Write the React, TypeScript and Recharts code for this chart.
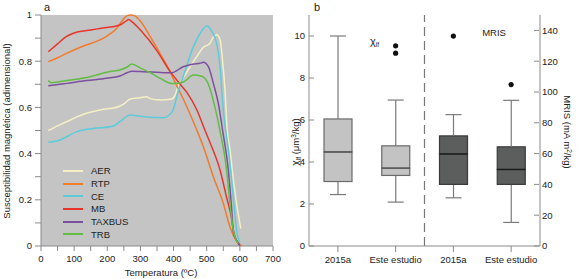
import React from 'react';
import {
  LineChart, Line, XAxis, YAxis, CartesianGrid, Legend,
  ComposedChart, Bar, ReferenceLine,
} from 'recharts';

const FONT = '"Liberation Sans", Arial, sans-serif';
const AX = '#8a8a8a';
const TXT = '#222';

// panel a: thermomagnetic curves, [temperature ºC, normalised susceptibility]
const aer = [[22, 0.5], [50, 0.52], [77, 0.538], [128, 0.57], [178, 0.589], [233, 0.603], [250, 0.615], [269, 0.636], [300, 0.642], [319, 0.646], [329, 0.638], [359, 0.632], [394, 0.636], [405, 0.655], [412, 0.685], [430, 0.73], [450, 0.776], [470, 0.82], [490, 0.86], [510, 0.878], [520, 0.905], [530, 0.915], [540, 0.895], [548, 0.8], [555, 0.68], [562, 0.5], [570, 0.42], [577, 0.33], [590, 0.185], [603, 0.075]];
const rtp = [[22, 0.798], [50, 0.815], [77, 0.834], [128, 0.866], [178, 0.892], [200, 0.91], [228, 0.942], [245, 0.975], [259, 0.996], [270, 1.0], [283, 0.996], [299, 0.975], [330, 0.905], [359, 0.834], [389, 0.755], [399, 0.725], [440, 0.603], [470, 0.502], [490, 0.43], [520, 0.3], [550, 0.185], [570, 0.083], [585, 0.033], [605, 0.0]];
const ce = [[22, 0.449], [40, 0.452], [57, 0.459], [80, 0.475], [108, 0.495], [158, 0.509], [213, 0.517], [238, 0.538], [260, 0.562], [269, 0.567], [299, 0.562], [349, 0.556], [370, 0.555], [384, 0.564], [399, 0.59], [410, 0.65], [429, 0.733], [460, 0.863], [480, 0.92], [500, 0.952], [515, 0.93], [530, 0.877], [540, 0.78], [548, 0.62], [557, 0.5], [565, 0.42], [572, 0.33], [582, 0.185], [590, 0.07], [600, 0.015]];
const mb = [[22, 0.841], [50, 0.875], [75, 0.905], [98, 0.921], [150, 0.935], [178, 0.942], [238, 0.957], [255, 0.972], [265, 0.98], [275, 0.97], [300, 0.935], [350, 0.845], [389, 0.757], [420, 0.7], [440, 0.665], [470, 0.59], [495, 0.5], [515, 0.43], [540, 0.33], [560, 0.21], [575, 0.12], [582, 0.05], [600, 0.005]];
const taxbus = [[22, 0.694], [40, 0.697], [77, 0.704], [138, 0.716], [198, 0.726], [238, 0.736], [260, 0.75], [275, 0.757], [299, 0.755], [349, 0.752], [394, 0.75], [429, 0.776], [460, 0.788], [480, 0.791], [490, 0.795], [505, 0.776], [520, 0.704], [535, 0.618], [548, 0.5], [565, 0.33], [574, 0.185], [580, 0.07], [590, 0.025], [600, 0.0]];
const trb = [[22, 0.716], [32, 0.707], [50, 0.71], [77, 0.716], [148, 0.733], [208, 0.755], [238, 0.762], [260, 0.775], [274, 0.788], [300, 0.77], [330, 0.75], [360, 0.726], [395, 0.703], [430, 0.71], [460, 0.74], [485, 0.735], [505, 0.7], [525, 0.6], [540, 0.5], [560, 0.33], [570, 0.185], [580, 0.07], [595, 0.01]];

const seriesNames = ['AER', 'RTP', 'CE', 'MB', 'TAXBUS', 'TRB'];
const seriesColors = ['#f4f0c4', '#f27b2c', '#5ecbdc', '#e8352c', '#7c4f9f', '#63bd45'];
const seriesPoints = [aer, rtp, ce, mb, taxbus, trb];

const tempTicks = [0, 50, 100, 150, 200, 250, 300, 350, 400, 450, 500, 550, 600, 650, 700];
const suscTicks = [0, 0.1, 0.2, 0.3, 0.4, 0.5, 0.6, 0.7, 0.8, 0.9, 1];

// panel b: box plots
const boxLabels = ['2015a', 'Este estudio', '2015a', 'Este estudio'];
const chiMin = [2.45, 2.09];
const chiQ1 = [3.07, 3.36];
const chiMed = [4.48, 3.71];
const chiQ3 = [6.05, 4.77];
const chiMax = [10, 6.95];
const chiOut = [[], [9.18, 9.53]];
const mrisMin = [31.3, 15.3];
const mrisQ1 = [40, 40];
const mrisMed = [59.8, 49.7];
const mrisQ3 = [71.5, 64.4];
const mrisMax = [85.3, 94.6];
const mrisOut = [[136.3], [104.8]];
const chiTicks = [0, 2, 4, 6, 8, 10];
const mrisTicks = [0, 20, 40, 60, 80, 100, 120, 140];

const boxRows = boxLabels.map((label, i) => {
  const row: any = { key: 'c' + i, label };
  if (i < 2) {
    row.chiBase = chiMin[i];
    row.chiLw = chiQ1[i] - chiMin[i];
    row.chiBl = chiMed[i] - chiQ1[i];
    row.chiBu = chiQ3[i] - chiMed[i];
    row.chiUw = chiMax[i] - chiQ3[i];
    row.chiO1 = chiOut[i][0] ?? null;
    row.chiO2 = chiOut[i][1] ?? null;
  } else {
    const j = i - 2;
    row.mrisBase = mrisMin[j];
    row.mrisLw = mrisQ1[j] - mrisMin[j];
    row.mrisBl = mrisMed[j] - mrisQ1[j];
    row.mrisBu = mrisQ3[j] - mrisMed[j];
    row.mrisUw = mrisMax[j] - mrisQ3[j];
    row.mrisO1 = mrisOut[j][0] ?? null;
  }
  return row;
});

const labelOf = (k: string) => boxLabels[Number(k.slice(1))];

const Empty = () => null;

const whisker = (key: string, end: 'top' | 'bottom') => (p: any) => {
  if (p.payload == null || p.payload[key] == null) return null;
  const cx = p.x + p.width / 2;
  const capY = end === 'top' ? p.y : p.y + p.height;
  return (
    <g>
      <line x1={cx} x2={cx} y1={p.y} y2={p.y + p.height} stroke="#7a7a7a" strokeWidth={1.2} />
      <line x1={cx - 8} x2={cx + 8} y1={capY} y2={capY} stroke="#7a7a7a" strokeWidth={1.2} />
    </g>
  );
};

const boxPart = (key: string, fill: string, stroke: string, median?: string) => (p: any) => {
  if (p.payload == null || p.payload[key] == null) return null;
  return (
    <g>
      <rect x={p.x} y={p.y} width={p.width} height={p.height} fill={fill} stroke={stroke} strokeWidth={1.2} />
      {median && (
        <line x1={p.x} x2={p.x + p.width} y1={p.y + p.height} y2={p.y + p.height} stroke={median} strokeWidth={1.3} />
      )}
    </g>
  );
};

const LeftInTick = (p: any) => (
  <g>
    <line x1={p.x + 4} x2={p.x + 9} y1={p.y} y2={p.y} stroke={AX} />
    <text x={p.x} y={p.y} dy="0.35em" textAnchor="end" fontSize={9.5} fill={TXT} fontFamily={FONT}>
      {p.payload.value}
    </text>
  </g>
);

const RightInTick = (p: any) => (
  <g>
    <line x1={p.x - 3} x2={p.x - 8} y1={p.y} y2={p.y} stroke={AX} />
    <text x={p.x} y={p.y} dy="0.35em" textAnchor="start" fontSize={9.5} fill={TXT} fontFamily={FONT}>
      {p.payload.value}
    </text>
  </g>
);

const LegendBox = (props: any) => {
  const items = [...(props.payload || [])].sort(
    (a: any, b: any) => seriesNames.indexOf(a.value) - seriesNames.indexOf(b.value),
  );
  return (
    <div style={{ fontFamily: FONT, fontSize: 9.5, color: TXT }}>
      {items.map((e: any) => (
        <div key={e.value} style={{ display: 'flex', alignItems: 'center', height: 12.7 }}>
          <span style={{ display: 'inline-block', width: 20, height: 2, background: e.color, marginRight: 8 }} />
          {e.value}
        </div>
      ))}
    </div>
  );
};

const tickStyle = { fontSize: 9.5, fill: TXT, fontFamily: FONT };

function PanelA() {
  return (
    <LineChart width={290} height={279} margin={{ top: 15, right: 17, bottom: 8, left: 11 }}>
      <CartesianGrid horizontal={false} vertical={false} fill="#c3c4c3" />
      <XAxis
        dataKey="t" type="number" domain={[0, 700]} ticks={tempTicks} height={25}
        tickFormatter={(v: number) => (v % 100 === 0 ? String(v) : '')}
        tick={tickStyle} tickSize={5} tickMargin={4}
        axisLine={{ stroke: AX }} tickLine={{ stroke: AX }}
      />
      <XAxis xAxisId="top" orientation="top" type="number" domain={[0, 700]} height={0}
        tick={false} tickLine={false} axisLine={{ stroke: AX }} />
      <YAxis
        type="number" domain={[0, 1]} ticks={suscTicks} width={30}
        tickFormatter={(v: number) => (Math.round(v * 10) % 2 === 0 ? String(Math.round(v * 10) / 10) : '')}
        tick={tickStyle} tickSize={6} tickMargin={3}
        axisLine={{ stroke: AX }} tickLine={{ stroke: AX }}
      />
      <YAxis yAxisId="r" orientation="right" domain={[0, 1]} width={0}
        tick={false} tickLine={false} axisLine={{ stroke: AX }} />
      {seriesPoints.map((pts, i) => (
        <Line
          key={seriesNames[i]}
          name={seriesNames[i]}
          data={pts.map(([t, k]) => ({ t, k }))}
          dataKey="k"
          type="monotone"
          stroke={seriesColors[i]}
          strokeWidth={1.5}
          dot={false}
          activeDot={false}
          isAnimationActive={false}
        />
      ))}
      <Legend
        layout="vertical" align="center" verticalAlign="middle"
        content={<LegendBox />}
        wrapperStyle={{ left: 63, top: 164.5, width: 90 }}
      />
    </LineChart>
  );
}

function PanelB() {
  const light = '#c2c3c2';
  const dark = '#5b5e5d';
  return (
    <ComposedChart width={287} height={279} data={boxRows} margin={{ top: 15, right: 7, bottom: 8, left: 0 }}>
      <XAxis
        xAxisId="x" dataKey="key" type="category" height={25}
        tickFormatter={labelOf} tick={tickStyle} tickSize={6} tickMargin={4}
        axisLine={{ stroke: AX }} tickLine={{ stroke: AX }}
      />
      <XAxis xAxisId="x2" dataKey="key" type="category" hide />
      <XAxis xAxisId="top" dataKey="key" type="category" orientation="top" height={0}
        tick={false} tickLine={false} axisLine={{ stroke: AX }} />
      <YAxis yAxisId="left" domain={[0, 11]} ticks={chiTicks} width={19}
        tick={<LeftInTick />} tickLine={false} tickSize={0} tickMargin={4} axisLine={{ stroke: AX }} />
      <YAxis yAxisId="right" orientation="right" domain={[0, 150]} ticks={mrisTicks} width={30}
        tick={<RightInTick />} tickLine={false} tickSize={0} tickMargin={2} axisLine={{ stroke: AX }} />
      <ReferenceLine xAxisId="x" yAxisId="left" x="c2" position="start" stroke="#777" strokeWidth={1.2} strokeDasharray="9 5" />

      <Bar xAxisId="x" yAxisId="left" stackId="chi" dataKey="chiBase" barSize={28} shape={<Empty />} isAnimationActive={false} />
      <Bar xAxisId="x" yAxisId="left" stackId="chi" dataKey="chiLw" barSize={28} shape={whisker('chiLw', 'bottom')} isAnimationActive={false} />
      <Bar xAxisId="x" yAxisId="left" stackId="chi" dataKey="chiBl" barSize={28} shape={boxPart('chiBl', light, '#6a6a6a')} isAnimationActive={false} />
      <Bar xAxisId="x" yAxisId="left" stackId="chi" dataKey="chiBu" barSize={28} shape={boxPart('chiBu', light, '#6a6a6a', '#555')} isAnimationActive={false} />
      <Bar xAxisId="x" yAxisId="left" stackId="chi" dataKey="chiUw" barSize={28} shape={whisker('chiUw', 'top')} isAnimationActive={false} />

      <Bar xAxisId="x2" yAxisId="right" stackId="mris" dataKey="mrisBase" barSize={28} shape={<Empty />} isAnimationActive={false} />
      <Bar xAxisId="x2" yAxisId="right" stackId="mris" dataKey="mrisLw" barSize={28} shape={whisker('mrisLw', 'bottom')} isAnimationActive={false} />
      <Bar xAxisId="x2" yAxisId="right" stackId="mris" dataKey="mrisBl" barSize={28} shape={boxPart('mrisBl', dark, '#3a3a3a')} isAnimationActive={false} />
      <Bar xAxisId="x2" yAxisId="right" stackId="mris" dataKey="mrisBu" barSize={28} shape={boxPart('mrisBu', dark, '#3a3a3a', '#1a1a1a')} isAnimationActive={false} />
      <Bar xAxisId="x2" yAxisId="right" stackId="mris" dataKey="mrisUw" barSize={28} shape={whisker('mrisUw', 'top')} isAnimationActive={false} />

      <Line xAxisId="x" yAxisId="left" dataKey="chiO1" stroke="none" dot={{ r: 2.6, fill: '#111', stroke: 'none' }} activeDot={false} isAnimationActive={false} />
      <Line xAxisId="x" yAxisId="left" dataKey="chiO2" stroke="none" dot={{ r: 2.6, fill: '#111', stroke: 'none' }} activeDot={false} isAnimationActive={false} />
      <Line xAxisId="x2" yAxisId="right" dataKey="mrisO1" stroke="none" dot={{ r: 2.6, fill: '#111', stroke: 'none' }} activeDot={false} isAnimationActive={false} />
    </ComposedChart>
  );
}

export default function App() {
  return (
    <div style={{ position: 'absolute', left: 0, top: 0, width: 577, height: 279, background: '#fff', fontFamily: FONT }}>
      <div style={{ position: 'absolute', left: 0, top: 0 }}>
        <PanelA />
      </div>
      <div style={{ position: 'absolute', left: 290, top: 0 }}>
        <PanelB />
      </div>
      <svg width={577} height={279} style={{ position: 'absolute', left: 0, top: 0, pointerEvents: 'none' }} fontFamily={FONT} fill={TXT}>
        <text x={44} y={11} fontSize={11}>a</text>
        <text x={314} y={11} fontSize={11}>b</text>
        <text x={7} y={131} fontSize={9.5} textAnchor="middle" dy="0.35em" transform="rotate(-90 7 131)">
          Susceptibilidad magnética (adimensional)
        </text>
        <text x={161} y={273} fontSize={9.5} textAnchor="middle" dy="0.35em">Temperatura (ºC)</text>
        <text x={296} y={142} fontSize={9.5} textAnchor="middle" dy="0.35em" transform="rotate(-90 296 142)">
          <tspan fontSize={10.5}>χ</tspan><tspan fontSize={6.5} dy={2}>lf</tspan><tspan dy={-2}> (μm</tspan><tspan fontSize={6.5} dy={-3}>3</tspan><tspan dy={3}>/kg)</tspan>
        </text>
        <text x={567} y={132} fontSize={9.5} textAnchor="middle" dy="0.35em" transform="rotate(90 567 132)">
          MRIS (mA m<tspan fontSize={6.5} dy={-3}>2</tspan><tspan dy={3}>/kg)</tspan>
        </text>
        <text x={370} y={45} fontSize={11}>χ<tspan fontSize={6.5} dy={2}>lf</tspan></text>
        <text x={494} y={36} fontSize={9.5} textAnchor="middle">MRIS</text>
      </svg>
    </div>
  );
}
